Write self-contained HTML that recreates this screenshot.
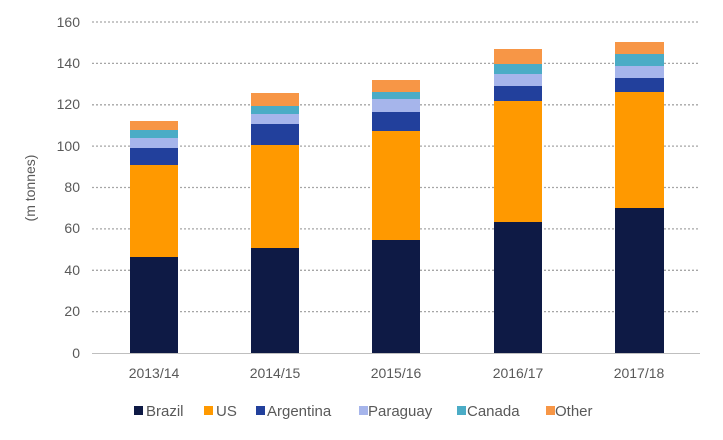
<!DOCTYPE html>
<html><head><style>body{margin:0;background:#fff}svg{display:block}text{font-family:"Liberation Sans",sans-serif;fill:#595959}</style></head><body>
<svg width="723" height="440" xmlns="http://www.w3.org/2000/svg">
<g stroke="#a6a6a6" stroke-width="1.3" stroke-dasharray="2,2">
<line x1="92" x2="700" y1="22" y2="22"/><line x1="92" x2="700" y1="63.4" y2="63.4"/><line x1="92" x2="700" y1="104.8" y2="104.8"/><line x1="92" x2="700" y1="146.1" y2="146.1"/><line x1="92" x2="700" y1="187.5" y2="187.5"/><line x1="92" x2="700" y1="228.9" y2="228.9"/><line x1="92" x2="700" y1="270.3" y2="270.3"/><line x1="92" x2="700" y1="311.6" y2="311.6"/>
</g>
<g font-size="14" text-anchor="end">
<text x="80" y="358">0</text><text x="80" y="316">20</text><text x="80" y="275">40</text><text x="80" y="233">60</text><text x="80" y="192">80</text><text x="80" y="151">100</text><text x="80" y="109">120</text><text x="80" y="68">140</text><text x="80" y="27">160</text>
</g>
<text font-size="14" transform="translate(35,188) rotate(-90)" text-anchor="middle">(m tonnes)</text>
<g id="bars">
<!-- x, tops: other, can, par, arg, us, brazil -->
<rect x="130" y="121" width="48" height="232" fill="#f79646"/><rect x="130" y="130" width="48" height="223" fill="#4bacc6"/><rect x="130" y="138" width="48" height="215" fill="#a6b5eb"/><rect x="130" y="148" width="48" height="205" fill="#22409c"/><rect x="130" y="165" width="48" height="188" fill="#ff9900"/><rect x="130" y="257" width="48" height="96" fill="#0e1a45"/>
<rect x="251" y="93" width="48" height="260" fill="#f79646"/><rect x="251" y="106" width="48" height="247" fill="#4bacc6"/><rect x="251" y="114" width="48" height="239" fill="#a6b5eb"/><rect x="251" y="124" width="48" height="229" fill="#22409c"/><rect x="251" y="145" width="48" height="208" fill="#ff9900"/><rect x="251" y="248" width="48" height="105" fill="#0e1a45"/>
<rect x="372" y="80" width="48" height="273" fill="#f79646"/><rect x="372" y="92" width="48" height="261" fill="#4bacc6"/><rect x="372" y="99" width="48" height="254" fill="#a6b5eb"/><rect x="372" y="112" width="48" height="241" fill="#22409c"/><rect x="372" y="131" width="48" height="222" fill="#ff9900"/><rect x="372" y="240" width="48" height="113" fill="#0e1a45"/>
<rect x="494" y="49" width="48" height="304" fill="#f79646"/><rect x="494" y="64" width="48" height="289" fill="#4bacc6"/><rect x="494" y="74" width="48" height="279" fill="#a6b5eb"/><rect x="494" y="86" width="48" height="267" fill="#22409c"/><rect x="494" y="101" width="48" height="252" fill="#ff9900"/><rect x="494" y="222" width="48" height="131" fill="#0e1a45"/>
<rect x="615" y="42" width="49" height="311" fill="#f79646"/><rect x="615" y="54" width="49" height="299" fill="#4bacc6"/><rect x="615" y="66" width="49" height="287" fill="#a6b5eb"/><rect x="615" y="78" width="49" height="275" fill="#22409c"/><rect x="615" y="92" width="49" height="261" fill="#ff9900"/><rect x="615" y="208" width="49" height="145" fill="#0e1a45"/>
</g>
<line x1="92" x2="700" y1="353.5" y2="353.5" stroke="#bfbfbf" stroke-width="1"/>
<g font-size="14" text-anchor="middle">
<text x="154" y="378">2013/14</text><text x="275" y="378">2014/15</text><text x="396" y="378">2015/16</text><text x="518" y="378">2016/17</text><text x="639" y="378">2017/18</text>
</g>
<g font-size="15">
<rect x="134" y="406" width="9" height="9" fill="#0e1a45"/><text x="146" y="416">Brazil</text>
<rect x="204" y="406" width="9" height="9" fill="#ff9900"/><text x="216" y="416">US</text>
<rect x="256" y="406" width="9" height="9" fill="#22409c"/><text x="267" y="416">Argentina</text>
<rect x="359" y="406" width="9" height="9" fill="#a6b5eb"/><text x="368" y="416">Paraguay</text>
<rect x="457" y="406" width="9" height="9" fill="#4bacc6"/><text x="467" y="416">Canada</text>
<rect x="546" y="406" width="9" height="9" fill="#f79646"/><text x="555" y="416">Other</text>
</g>
</svg>
</body></html>
